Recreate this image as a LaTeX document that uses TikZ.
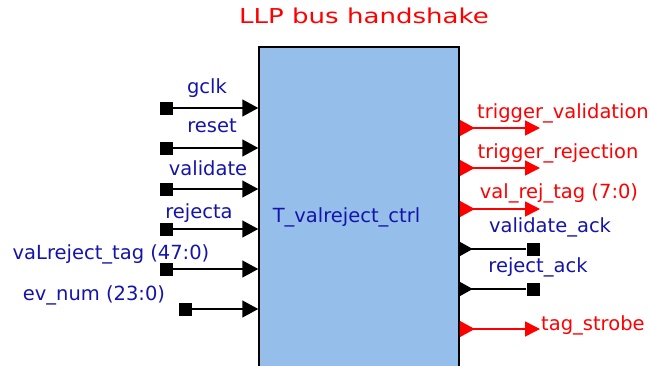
\documentclass[tikz,border=0pt]{standalone}
\usepackage{fontspec}
\setmainfont{DejaVu Sans}
\newfontfamily\titlefont[FakeStretch=1.27]{DejaVu Sans}
\usepackage{xcolor}
\usepackage{tikz}
\usetikzlibrary{arrows.meta,positioning}
\definecolor{portblue}{RGB}{20,20,170}
\definecolor{blkfill}{RGB}{150,190,235}

\begin{document}
\begin{tikzpicture}[x=1pt, y=1pt, font=\fontsize{19.5}{22}\selectfont,
		pinsq/.style={fill=black, minimum size=13pt, inner sep=0pt},
		inlbl/.style={text=portblue, anchor=base, inner sep=0pt},
		outlbl/.style={text=red, anchor=base, inner sep=0pt},
		inwire/.style={line width=1.5pt, -{Triangle[length=16pt,width=17pt]}},
		outred/.style={red, line width=1.5pt,
			{Triangle[reversed,length=15pt,width=16pt]}-{Triangle[length=15pt,width=15pt]}},
		outblk/.style={line width=1.5pt, {Triangle[reversed,length=13pt,width=14pt]}-}]
		\useasboundingbox (0,0) rectangle (650,365);
		\clip (0,0) rectangle (650,365);
		
		\node[text=red, anchor=base, inner sep=0pt, font=\titlefont\fontsize{20.5}{24}\selectfont] (title) at (364,341) {LLP bus handshake};
		
		\node[draw, line width=1.5pt, fill=blkfill, minimum width=200pt, minimum height=340pt, inner sep=0pt] (blk) at (359,148) {};
		\node[inlbl] (blkname) at (346.5,143) {T\_valreject\_ctrl};
		
		% inputs
		\node[pinsq] (gclk) at (166,257) {};
		\node[pinsq] (reset) at (166,217) {};
		\node[pinsq] (validate) at (166,176) {};
		\node[pinsq] (rejecta) at (166,136) {};
		\node[pinsq] (vtag) at (166,96) {};
		\node[pinsq] (evnum) at (185,56) {};
		
		\draw[inwire] (gclk) -- (gclk -| blk.west);
		\draw[inwire] (reset) -- (reset -| blk.west);
		\draw[inwire] (validate) -- (validate -| blk.west);
		\draw[inwire] (rejecta) -- (rejecta -| blk.west);
		\draw[inwire] (vtag) -- (vtag -| blk.west);
		\draw[inwire] (evnum) -- (evnum -| blk.west);
		
		\node[inlbl] (gclklbl) at (207,272) {gclk};
		\node[inlbl] (resetlbl) at (212,233) {reset};
		\node[inlbl] (validatelbl) at (208,190) {validate};
		\node[inlbl] (rejectalbl) at (199,147) {rejecta};
		\node[inlbl] (vtaglbl) at (111,106) {vaLreject\_tag (47:0)};
		\node[inlbl] (evnumlbl) at (94,65) {ev\_num (23:0)};
		
		% outputs
		\coordinate (trigval) at (540,237);
		\coordinate (trigrej) at (540,197);
		\coordinate (vrtag) at (540,156);
		\node[pinsq] (vack) at (533,116) {};
		\node[pinsq] (rack) at (533,76) {};
		\coordinate (tstrobe) at (540,36);
		
		\draw[outred] (trigval -| blk.east) -- (trigval);
		\draw[outred] (trigrej -| blk.east) -- (trigrej);
		\draw[outred] (vrtag -| blk.east) -- (vrtag);
		\draw[outblk] (vack -| blk.east) -- (vack);
		\draw[outblk] (rack -| blk.east) -- (rack);
		\draw[outred] (tstrobe -| blk.east) -- (tstrobe);
		
		\node[outlbl] (trigvallbl) at (563,247) {trigger\_validation};
		\node[outlbl] (trigrejlbl) at (558,207) {trigger\_rejection};
		\node[outlbl] (vrtaglbl) at (559,167) {val\_rej\_tag (7:0)};
		\node[inlbl] (vacklbl) at (550,133) {validate\_ack};
		\node[inlbl] (racklbl) at (538,93) {reject\_ack};
		\node[outlbl, anchor=base west] (tstrobelbl) at (541,35) {tag\_strobe};
	\end{tikzpicture}
\end{document}
